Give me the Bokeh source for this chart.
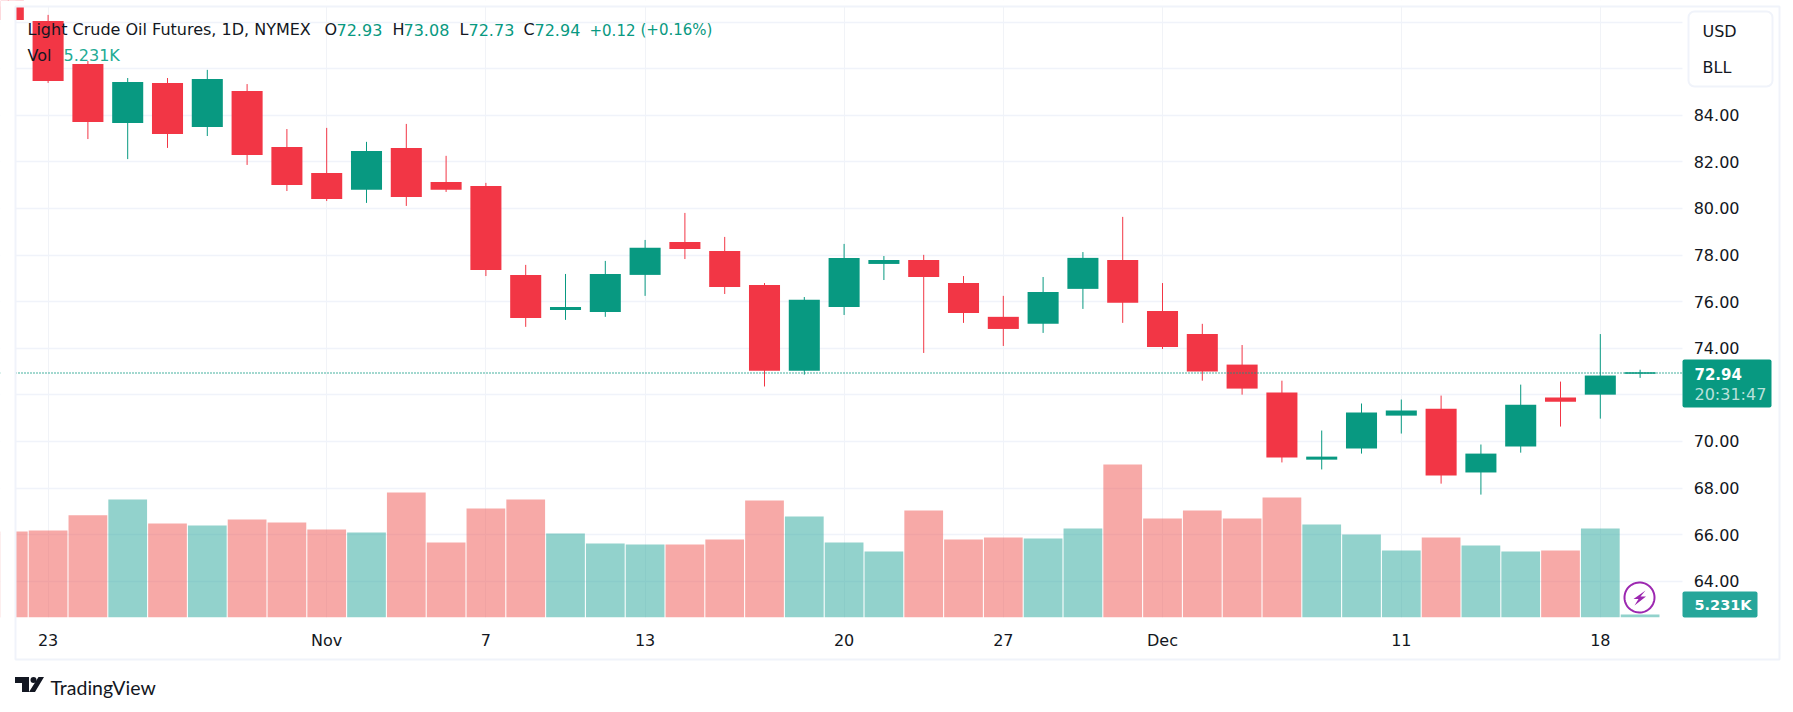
import numpy as np
from bokeh.plotting import figure
from bokeh.models import (ColumnDataSource, Range1d, FixedTicker, NumeralTickFormatter,
                          BoxAnnotation, PolyAnnotation, Label, Span, InlineStyleSheet)
from bokeh.embed import file_html
from bokeh.resources import INLINE

bar_index = list(range(-1, 41))
opens = [90.00, 88.05, 86.20, 83.67, 85.39, 83.50, 85.04, 82.64, 81.52, 80.80, 82.60, 81.14, 80.97, 77.15,
         75.64, 75.56, 77.15, 78.56, 78.18, 76.72, 73.04, 75.77, 77.62, 77.79, 76.80, 75.35, 75.05, 76.55,
         77.79, 75.60, 74.61, 73.30, 72.10, 69.22, 69.70, 71.11, 71.41, 68.67, 69.78, 71.89, 72.01, 72.93]
highs = [90.50, 88.31, 86.33, 85.60, 85.60, 85.95, 85.34, 83.41, 83.46, 82.86, 83.63, 82.26, 81.10, 77.58,
         77.19, 77.75, 78.65, 79.81, 78.78, 76.80, 76.20, 78.48, 77.96, 78.01, 77.10, 76.25, 77.06, 78.13,
         79.64, 76.80, 75.05, 74.14, 72.61, 70.47, 71.63, 71.80, 71.97, 69.87, 72.44, 72.57, 74.61, 73.08]
lows = [88.00, 85.39, 82.98, 82.12, 82.60, 83.11, 81.87, 80.75, 80.32, 80.24, 80.11, 80.71, 77.10, 74.92,
        75.22, 75.35, 76.25, 77.83, 76.33, 72.36, 72.87, 75.43, 76.93, 73.80, 75.09, 74.10, 74.66, 75.69,
        75.09, 73.97, 72.61, 72.01, 69.10, 68.80, 69.48, 70.34, 68.19, 67.72, 69.52, 70.64, 70.98, 72.73]
closes = [88.09, 85.47, 83.71, 85.43, 83.20, 85.56, 82.30, 81.01, 80.41, 82.47, 80.49, 80.80, 77.36, 75.30,
          75.77, 77.19, 78.31, 78.26, 76.63, 73.04, 76.08, 77.88, 77.79, 77.06, 75.51, 74.83, 76.42, 77.88,
          75.95, 74.06, 73.00, 72.27, 69.31, 69.35, 71.24, 71.33, 68.54, 69.48, 71.58, 71.71, 72.83, 72.94]
volumes_k = [150.0, 151.7, 178.0, 205.7, 164.0, 160.4, 170.9, 165.6, 153.4, 148.2, 217.9, 130.8, 190.0, 205.7,
             146.4, 129.0, 127.3, 127.3, 136.0, 204.0, 176.0, 130.8, 115.0, 186.5, 136.0, 139.5, 137.7, 155.2,
             266.8, 172.6, 186.5, 172.6, 209.2, 162.1, 144.7, 116.8, 139.5, 125.5, 115.0, 116.8, 155.2, 5.231]

date_ticks = [0, 7, 11, 15, 20, 24, 28, 34, 39]
date_labels = ["23", "Nov", "7", "13", "20", "27", "Dec", "11", "18"]
price_ticks = [64, 66, 68, 70, 72, 74, 76, 78, 80, 82, 84]
grid_ticks = [64, 66, 68, 70, 72, 74, 76, 78, 80, 82, 84, 86, 88]
last_price = 72.94

UP = "#089981"
DOWN = "#F23645"
VOL_UP = "#26a69a"
VOL_DOWN = "#ef5350"
FONT = "DejaVu Sans"
INK = "#131722"
EDGE = "#f0f3fa"

is_up = [c >= o for o, c in zip(opens, closes)]
src = ColumnDataSource(dict(
    x=bar_index,
    top=[max(o, c) for o, c in zip(opens, closes)],
    bottom=[min(o, c) for o, c in zip(opens, closes)],
    high=highs, low=lows, vol=volumes_k,
    color=[UP if u else DOWN for u in is_up],
    vcolor=[VOL_UP if u else VOL_DOWN for u in is_up],
))

logo_svg = ("%3Csvg xmlns='http://www.w3.org/2000/svg' width='29' height='15' viewBox='0 0 29 15'%3E"
            "%3Cpath fill='%23131722' d='M0 0H14V15H7V6H0Z M23.5 0H29L20 15H14Z'/%3E"
            "%3Ccircle fill='%23131722' cx='18.5' cy='3' r='3'/%3E%3C/svg%3E")
sheet = InlineStyleSheet(css=f""":host::before {{content:""; position:absolute; left:15px; top:677px;
 width:29px; height:15px; background:url("data:image/svg+xml,{logo_svg}") no-repeat; z-index:5;}}""")

# The frame fills the whole figure so that every text stays inside it; the axes sit at fixed
# locations and white strips hide what lies outside the chart pane.
p = figure(width=1785, height=700, output_backend="svg", toolbar_location=None,
           x_range=Range1d(-1.196, 43.653), y_range=Range1d(58.883, 88.927),
           y_axis_location="right", margin=0, stylesheets=[sheet],
           min_border_left=0, min_border_top=0, min_border_right=0, min_border_bottom=0,
           background_fill_color="white", border_fill_color="white", outline_line_color=None)
p.extra_y_ranges = {"vol": Range1d(-144.7, 1075.4)}

xa = p.xaxis[0]
xa.ticker = FixedTicker(ticks=date_ticks)
xa.major_label_overrides = {t: l for t, l in zip(date_ticks, date_labels)}
xa.fixed_location = 62.45
ya = p.yaxis[0]
ya.ticker = FixedTicker(ticks=price_ticks)
ya.formatter = NumeralTickFormatter(format="0.00")
ya.fixed_location = 41.07
for ax, st in ((xa, 8), (ya, 5)):
    ax.axis_line_color = None
    ax.major_tick_line_color = None
    ax.minor_tick_line_color = None
    ax.major_label_text_font = FONT
    ax.major_label_text_font_size = "16px"
    ax.major_label_text_color = INK
    ax.major_label_standoff = st
    ax.level = "annotation"

p.xgrid[0].ticker = FixedTicker(ticks=date_ticks)
p.xgrid[0].grid_line_color = "#f1f3f7"
p.ygrid[0].ticker = FixedTicker(ticks=grid_ticks)
p.ygrid[0].grid_line_color = EDGE
p.ygrid[0].grid_line_width = 1.5

p.vbar(x="x", width=0.973, bottom=0, top="vol", source=src, y_range_name="vol",
       fill_color="vcolor", fill_alpha=0.5, line_color=None)
p.segment(x0="x", x1="x", y0="low", y1="high", source=src, line_color="color", line_width=1)
p.vbar(x="x", width=0.78, bottom="bottom", top="top", source=src,
       fill_color="color", line_color=None)
# the newest bar has a body thinner than a pixel: it is drawn as a one-pixel rule, as in the original
p.segment(x0=[bar_index[-1] - 0.39], x1=[bar_index[-1] + 0.39], y0=[closes[-1]], y1=[closes[-1]],
          line_color=UP, line_width=1.5)


def box(l, r, t, b, fill=None, line=None, radius=0, level="annotation"):
    p.add_layout(BoxAnnotation(left=l, right=r, top=t, bottom=b, left_units="canvas", right_units="canvas",
                               top_units="canvas", bottom_units="canvas",
                               fill_color=fill, fill_alpha=1 if fill else 0,
                               line_color=line, line_alpha=1 if line else 0, line_width=2,
                               border_radius=radius, level=level))


def text(x, y, s, color=INK, size="16px", style="normal", alpha=1.0, font=FONT):
    p.add_layout(Label(x=x, y=y, x_units="canvas", y_units="canvas", text=s, text_color=color,
                       text_font=font, text_font_size=size, text_baseline="middle",
                       text_font_style=style, text_alpha=alpha))


# white strips round the chart pane
box(0, 15, 0, 700, "white", level="guide")
box(1682, 1785, 0, 700, "white", level="guide")
box(0, 1785, 0, 6, "white", level="guide")
box(0, 1785, 617, 700, "white", level="guide")
p.add_layout(Span(location=last_price, dimension="width", line_color=UP, line_width=1.5, line_dash="1 2",
                  level="glyph"))

# pane border
box(15, 1779, 6, 659, None, EDGE)

for x, s, c in [(27, "Light Crude Oil Futures, 1D, NYMEX", INK), (324, "O", INK), (336, "72.93", UP),
                (392, "H", INK), (403, "73.08", UP), (459, "L", INK), (468, "72.73", UP),
                (523, "C", INK), (534, "72.94", UP)]:
    text(x, 29, s, c)
text(589, 29, "+0.12", UP, "15px")
text(640, 29, "(+0.16%)", UP, "15px")
text(27, 55, "Vol", INK)
text(63, 55, "5.231K", "#22ab94")

box(1688, 1772, 11, 86, "white", EDGE, 6)
text(1702, 31, "USD")
text(1702, 67, "BLL")

box(1682, 1771, 359, 407, UP, None, 2)
text(1694, 373, "72.94", "white", "15px", "bold")
text(1694, 394, "20:31:47", "white", alpha=0.72)
box(1682, 1757, 591, 617, "#26a69a", None, 2)
text(1694, 604, "5.231K", "white", "14.5px", "bold")

t = np.linspace(0, 2 * np.pi, 60)
p.add_layout(PolyAnnotation(xs=list(1639 + 15 * np.cos(t)), ys=list(597 + 15 * np.sin(t)),
                            xs_units="canvas", ys_units="canvas", fill_color="white", fill_alpha=0,
                            line_color="#9c27b0", line_alpha=1, line_width=2, level="overlay"))
p.add_layout(PolyAnnotation(xs=[1645, 1633, 1638, 1634, 1645.5, 1640], ys=[590, 598.5, 598.5, 605, 596, 596],
                            xs_units="canvas", ys_units="canvas", fill_color="#9c27b0", fill_alpha=1,
                            line_color=None, level="overlay"))

text(50, 687, "TradingView", INK, "19.5px", font="Lato")

open("out.html", "w").write(file_html(p, INLINE))
